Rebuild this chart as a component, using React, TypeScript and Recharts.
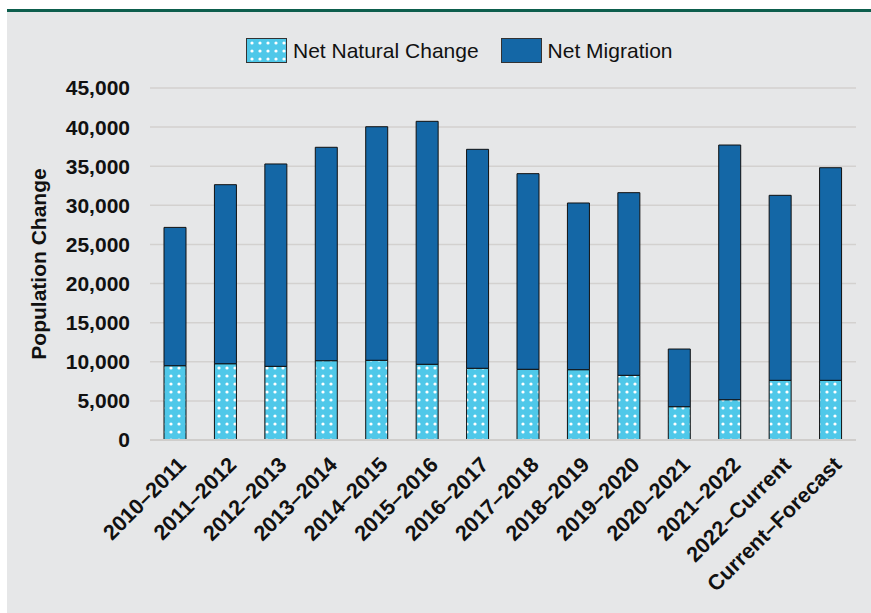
import { BarChart, Bar, XAxis, YAxis, CartesianGrid } from 'recharts'

// Reporting periods
const periods = [
  '2010–2011', '2011–2012', '2012–2013', '2013–2014', '2014–2015', '2015–2016', '2016–2017',
  '2017–2018', '2018–2019', '2019–2020', '2020–2021', '2021–2022', '2022–Current', 'Current–Forecast',
]

// Net natural change (births minus deaths)
const naturalChange = [9500, 9750, 9420, 10140, 10190, 9680, 9170, 9040, 8990, 8270, 4260, 5150, 7630, 7630]

// Net migration
const netMigration = [17680, 22890, 25870, 27280, 29860, 31060, 27990, 25010, 21310, 23350, 7370, 32560, 23650, 27180]

const yTicks = [0, 5000, 10000, 15000, 20000, 25000, 30000, 35000, 40000, 45000]

const data = periods.map((name, i) => ({
  name,
  natural: naturalChange[i],
  migration: netMigration[i],
}))

const FONT = '"Liberation Sans", Arial, sans-serif'
const LIGHT = '#4fc8e9'
const DARK = '#1467a6'

const XTick = ({ x, y, payload }: any) => (
  <text
    x={x + 12}
    y={y + 18}
    transform={`rotate(-45, ${x + 12}, ${y + 18})`}
    textAnchor="end"
    fontFamily={FONT}
    fontWeight="bold"
    fontSize={21.5}
    fill="#111"
  >
    {payload.value}
  </text>
)

const DotSwatch = () => (
  <svg width={41} height={25} style={{ display: 'block' }}>
    <defs>
      <pattern id="dotsLegend" width={8} height={8} patternUnits="userSpaceOnUse" x={2} y={1}>
        <rect width={8} height={8} fill={LIGHT} />
        <circle cx={4} cy={4} r={1.6} fill="#fff" />
      </pattern>
    </defs>
    <rect x={0.5} y={0.5} width={40} height={24} fill="url(#dotsLegend)" stroke="#333" />
  </svg>
)

export default function App() {
  return (
    <div style={{ position: 'absolute', left: 7, top: 0, width: 864, height: 613, fontFamily: FONT }}>
      <div style={{ position: 'absolute', left: 0, top: 9, width: 864, height: 3, background: '#0d5e4d' }} />
      <div style={{ position: 'absolute', left: 0, top: 12, width: 864, height: 601, background: '#e6e7e8' }}>
        {/* legend */}
        <div style={{ position: 'absolute', top: 26, left: 239, display: 'flex', alignItems: 'center', fontSize: 21, color: '#111' }}>
          <DotSwatch />
          <span style={{ marginLeft: 6, marginRight: 22 }}>Net Natural Change</span>
          <svg width={41} height={25} style={{ display: 'block' }}>
            <rect x={0.5} y={0.5} width={40} height={24} fill={DARK} stroke="#333" />
          </svg>
          <span style={{ marginLeft: 6 }}>Net Migration</span>
        </div>

        <BarChart
          width={864}
          height={601}
          data={data}
          margin={{ top: 76, right: 15, left: 0, bottom: 0 }}
          barSize={22}
        >
          <defs>
            <pattern id="dots" width={8} height={8} patternUnits="userSpaceOnUse">
              <rect width={8} height={8} fill={LIGHT} />
              <circle cx={4} cy={4} r={1.6} fill="#fff" />
            </pattern>
          </defs>
          <CartesianGrid vertical={false} stroke="#d3d1cf" strokeWidth={1.5} />
          <XAxis
            dataKey="name"
            interval={0}
            height={173}
            tickLine={false}
            axisLine={{ stroke: '#cfcdcb', strokeWidth: 2 }}
            tick={<XTick />}
          />
          <YAxis
            width={143}
            domain={[0, 45000]}
            ticks={yTicks}
            tickLine={false}
            axisLine={false}
            tickSize={0}
            tickMargin={20}
            tickFormatter={(v: number) => v.toLocaleString('en-US')}
            tick={{ fontFamily: FONT, fontWeight: 'bold', fontSize: 21, fill: '#111' }}
            label={{
              content: () => (
                <text
                  x={31}
                  y={252}
                  transform="rotate(-90, 31, 252)"
                  textAnchor="middle"
                  dominantBaseline="central"
                  fontFamily={FONT}
                  fontWeight="bold"
                  fontSize={21}
                  fill="#111"
                >
                  Population Change
                </text>
              ),
            }}
          />
          <Bar dataKey="natural" stackId="a" fill="url(#dots)" stroke="#111" strokeWidth={1} isAnimationActive={false} />
          <Bar dataKey="migration" stackId="a" fill={DARK} stroke="#111" strokeWidth={1} isAnimationActive={false} />
        </BarChart>
      </div>
    </div>
  )
}
